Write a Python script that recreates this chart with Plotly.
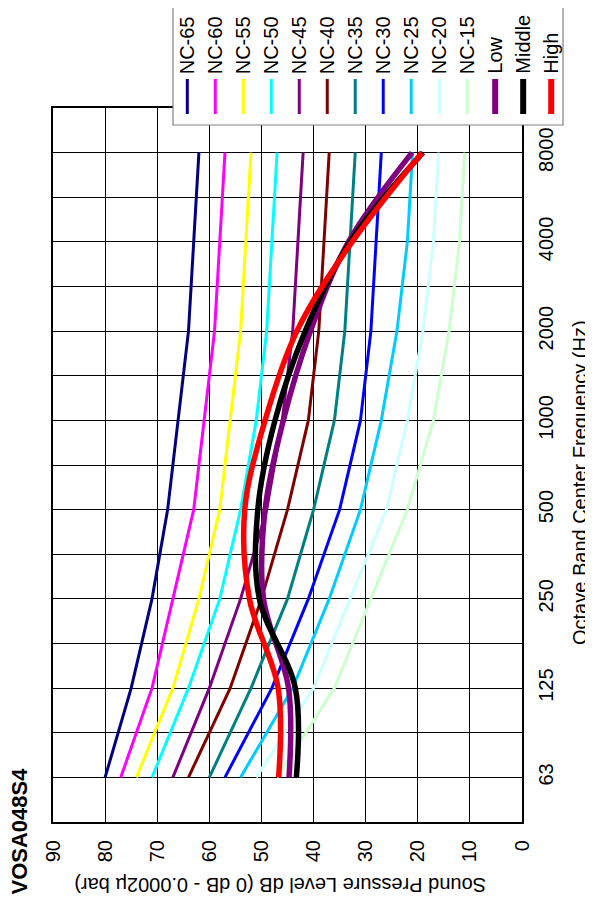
import plotly.graph_objects as go

# ---------------- data ----------------
freq_labels = ["63", "125", "250", "500", "1000", "2000", "4000", "8000"]
freq_pos = [0, 1, 2, 3, 4, 5, 6, 7]

nc_65 = [80, 75, 71, 68, 66, 64, 63, 62]
nc_60 = [77, 71, 67, 63, 61, 59, 58, 57]
nc_55 = [74, 67, 62, 58, 56, 54, 53, 52]
nc_50 = [71, 64, 58, 54, 51, 49, 48, 47]
nc_45 = [67, 60, 54, 49, 46, 44, 43, 42]
nc_40 = [64, 56, 50, 45, 41, 39, 38, 37]
nc_35 = [60, 52, 45, 40, 36, 34, 33, 32]
nc_30 = [57, 48, 41, 35, 31, 29, 28, 27]
nc_25 = [54, 44, 37, 31, 27, 24, 22, 21]
nc_20 = [51, 40, 33, 26, 22, 19, 17, 16]
nc_15 = [47, 36, 29, 22, 17, 14, 12, 11]

low = [44.7, 44.8, 49.6, 49.3, 45.8, 40.6, 33.3, 21.1]
middle = [43.3, 43.5, 50.4, 50.7, 47.4, 41.6, 33.0, 19.0]
high = [46.7, 46.8, 52.3, 53.2, 49.3, 43.2, 32.6, 19.2]

nc_names = ["NC-65", "NC-60", "NC-55", "NC-50", "NC-45", "NC-40",
            "NC-35", "NC-30", "NC-25", "NC-20", "NC-15"]
nc_series = [nc_65, nc_60, nc_55, nc_50, nc_45, nc_40,
             nc_35, nc_30, nc_25, nc_20, nc_15]
nc_colors = ["#000080", "#FF00FF", "#FFFF00", "#00FFFF", "#800080", "#800000",
             "#008080", "#0000FF", "#00CCFF", "#CCFFFF", "#CCFFCC"]

op_names = ["Low", "Middle", "High"]
op_series = [low, middle, high]
op_colors = ["#800080", "#000000", "#FF0000"]

spl_ticks = [0, 10, 20, 30, 40, 50, 60, 70, 80, 90]

# ---------------- layout geometry (screen pixels) ----------------
OFF = 8                      # default page body margin
SW, SH = 593, 903            # browser window
W, H = SW - OFF, SH - OFF    # figure size
L, R, T, B = 53, 522, 108, 822   # plot area in screen pixels
FONT = "Liberation Sans, Arial, sans-serif"


def px(x):
    return (x - L) / (R - L)


def py(y):
    return (B - y) / (B - T)


fig = go.Figure()

for name, vals, col in zip(nc_names, nc_series, nc_colors):
    fig.add_trace(go.Scatter(x=vals, y=freq_pos, mode="lines", name=name,
                             line=dict(color=col, width=3), showlegend=False))

for name, vals, col in zip(op_names, op_series, op_colors):
    fig.add_trace(go.Scatter(x=vals, y=freq_pos, mode="lines", name=name,
                             line=dict(color=col, width=5.5, shape="spline", smoothing=1),
                             showlegend=False))

# y ticks: integer positions labelled, half positions unlabelled (grid only)
y_tickvals = []
y_ticktext = []
for i, lab in enumerate(freq_labels):
    y_tickvals.append(i)
    y_ticktext.append(lab)
    if i < len(freq_labels) - 1:
        y_tickvals.append(i + 0.5)
        y_ticktext.append("")

fig.update_layout(
    width=W, height=H, autosize=False,
    margin=dict(l=L - OFF, r=SW - R, t=T - OFF, b=SH - B, pad=0),
    paper_bgcolor="white", plot_bgcolor="white",
    font=dict(family=FONT, color="black", size=20),
    showlegend=False,
    xaxis=dict(range=[90, 0], tickmode="array", tickvals=spl_ticks,
               ticktext=[str(v) for v in spl_ticks],
               tickangle=-90, tickfont=dict(size=20, family=FONT, color="black"),
               showgrid=True, gridcolor="black", gridwidth=1,
               showline=True, linecolor="black", linewidth=2, mirror=True,
               zeroline=False, ticks="", ticklabelstandoff=8, automargin=False),
    yaxis=dict(range=[-0.5, 7.5], tickmode="array", tickvals=y_tickvals,
               ticktext=y_ticktext, side="right",
               tickangle=-90, tickfont=dict(size=20, family=FONT, color="black"),
               showgrid=True, gridcolor="black", gridwidth=1,
               showline=True, linecolor="black", linewidth=2, mirror=True,
               zeroline=False, ticks="", ticklabelstandoff=5, automargin=False),
)

annotations = [
    dict(text="<b>VOSA048S4</b>", x=px(19), y=py(897), xref="paper", yref="paper",
         xanchor="center", yanchor="bottom", textangle=-90, showarrow=False,
         font=dict(size=22, family=FONT, color="black")),
    dict(text="Octave Band Center Frequency (Hz)", x=px(580), y=py(483),
         xref="paper", yref="paper", xanchor="center", yanchor="middle",
         textangle=-90, showarrow=False, font=dict(size=20, family=FONT, color="black")),
    dict(text="Sound Pressure Level dB (0 dB - 0.0002µ bar)", x=px(280), y=py(885),
         xref="paper", yref="paper", xanchor="center", yanchor="middle",
         textangle=180, showarrow=False, font=dict(size=20, family=FONT, color="black")),
]

shapes = [
    dict(type="rect", xref="paper", yref="paper", x0=px(173), x1=px(563),
         y0=py(125), y1=py(4), fillcolor="white",
         line=dict(color="#808080", width=1.2), layer="above"),
]

leg_names = nc_names + op_names
leg_colors = nc_colors + op_colors
for i, (name, col) in enumerate(zip(leg_names, leg_colors)):
    cx = 187.3 + 27.99 * i
    lw = 3 if i < len(nc_names) else 6
    shapes.append(dict(type="line", xref="paper", yref="paper",
                       x0=px(cx), x1=px(cx), y0=py(79), y1=py(114),
                       line=dict(color=col, width=lw), layer="above"))
    annotations.append(dict(text=name, x=px(cx), y=py(76), xref="paper", yref="paper",
                            xanchor="center", yanchor="bottom", textangle=-90,
                            showarrow=False, font=dict(size=20, family=FONT, color="black")))

fig.update_layout(annotations=annotations, shapes=shapes)

fig.write_html("out.html")
